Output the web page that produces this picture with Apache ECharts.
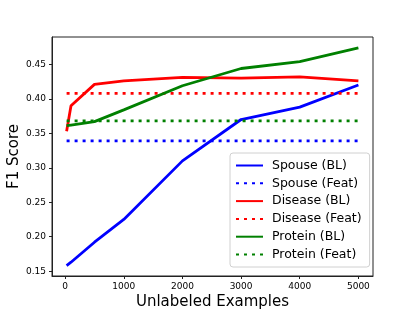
<!DOCTYPE html>
<html>
<head>
<meta charset="utf-8">
<script src="https://cdn.jsdelivr.net/npm/echarts@6/dist/echarts.min.js"></script>
<style>
html,body{margin:0;padding:0;background:#fff;}
#chart{width:415px;height:311px;}
</style>
</head>
<body>
<div id="chart"></div>
<script>
const examples = [25, 100, 500, 1000, 2000, 3000, 4000, 5000];
const spouseBL = [0.158, 0.163, 0.192, 0.225, 0.310, 0.370, 0.388, 0.420];
const diseaseBL = [0.353, 0.390, 0.421, 0.426, 0.431, 0.430, 0.432, 0.426];
const proteinBL = [0.361, 0.362, 0.367, 0.384, 0.419, 0.444, 0.454, 0.474];
const featX = [25, 5000];
const spouseFeat = [0.339, 0.339];
const diseaseFeat = [0.408, 0.408];
const proteinFeat = [0.368, 0.368];
const xTicks = [0, 1000, 2000, 3000, 4000, 5000];
const yTicks = [0.15, 0.20, 0.25, 0.30, 0.35, 0.40, 0.45];
const seriesNames = ['Spouse (BL)', 'Spouse (Feat)', 'Disease (BL)', 'Disease (Feat)', 'Protein (BL)', 'Protein (Feat)'];

const FONT = 'DejaVu Sans';
const pair = (xs, ys) => xs.map((x, i) => [x, ys[i]]);
const DOT = [3, 5];
function mk(name, xs, ys, color, dotted) {
  return {
    name: name, type: 'line', data: pair(xs, ys), symbol: 'none', showSymbol: false,
    animation: false, silent: true,
    lineStyle: { color: color, width: 2.8, type: dotted ? DOT : 'solid', cap: 'butt' },
    itemStyle: { color: color }
  };
}
const chart = echarts.init(document.getElementById('chart'), null, { renderer: 'canvas' });
chart.setOption({
  animation: false,
  backgroundColor: '#fff',
  grid: { left: 52, right: 42, top: 37, bottom: 35, containLabel: false, outerBoundsMode: 'none',
    show: true, borderColor: '#222', borderWidth: 1, backgroundColor: 'transparent' },
  xAxis: {
    type: 'value', min: -224, max: 5249,
    name: 'Unlabeled Examples', nameLocation: 'middle', nameGap: 19, nameMoveOverlap: false,
    nameTextStyle: { fontFamily: FONT, fontSize: 15, color: '#000' },
    axisLine: { show: true, onZero: false, lineStyle: { color: '#222', width: 1 } },
    axisTick: { show: true, length: 3, lineStyle: { color: '#222' }, customValues: xTicks },
    axisLabel: { customValues: xTicks, fontFamily: FONT, fontSize: 9, color: '#000', margin: 6,
      formatter: v => String(Math.round(v)) },
    splitLine: { show: false }
  },
  yAxis: {
    type: 'value', min: 0.143, max: 0.4897,
    name: 'F1 Score', nameLocation: 'middle', nameGap: 30, nameMoveOverlap: false,
    nameTextStyle: { fontFamily: FONT, fontSize: 15, color: '#000' },
    axisLine: { show: true, onZero: false, lineStyle: { color: '#222', width: 1 } },
    axisTick: { show: true, length: 3, lineStyle: { color: '#222' }, customValues: yTicks },
    axisLabel: { customValues: yTicks, fontFamily: FONT, fontSize: 9, color: '#000', margin: 6,
      formatter: v => v.toFixed(2) },
    splitLine: { show: false }
  },
  legend: {
    orient: 'vertical', left: 230, top: 153,
    data: seriesNames,
    padding: [6, 8, 6, 5],
    itemWidth: 27, itemHeight: 14, itemGap: 4.8,
    backgroundColor: 'rgba(255,255,255,0.85)', borderColor: '#d0d0d0', borderWidth: 1, borderRadius: 3,
    textStyle: { fontFamily: FONT, fontSize: 12.5, color: '#000', padding: [0, 0, 0, 4] },
    itemStyle: { opacity: 0 },
    selectedMode: false
  },
  series: [
    mk(seriesNames[0], examples, spouseBL, '#0000ff', false),
    mk(seriesNames[1], featX, spouseFeat, '#0000ff', true),
    mk(seriesNames[2], examples, diseaseBL, '#ff0000', false),
    mk(seriesNames[3], featX, diseaseFeat, '#ff0000', true),
    mk(seriesNames[4], examples, proteinBL, '#008000', false),
    mk(seriesNames[5], featX, proteinFeat, '#008000', true)
  ]
});
</script>
</body>
</html>
